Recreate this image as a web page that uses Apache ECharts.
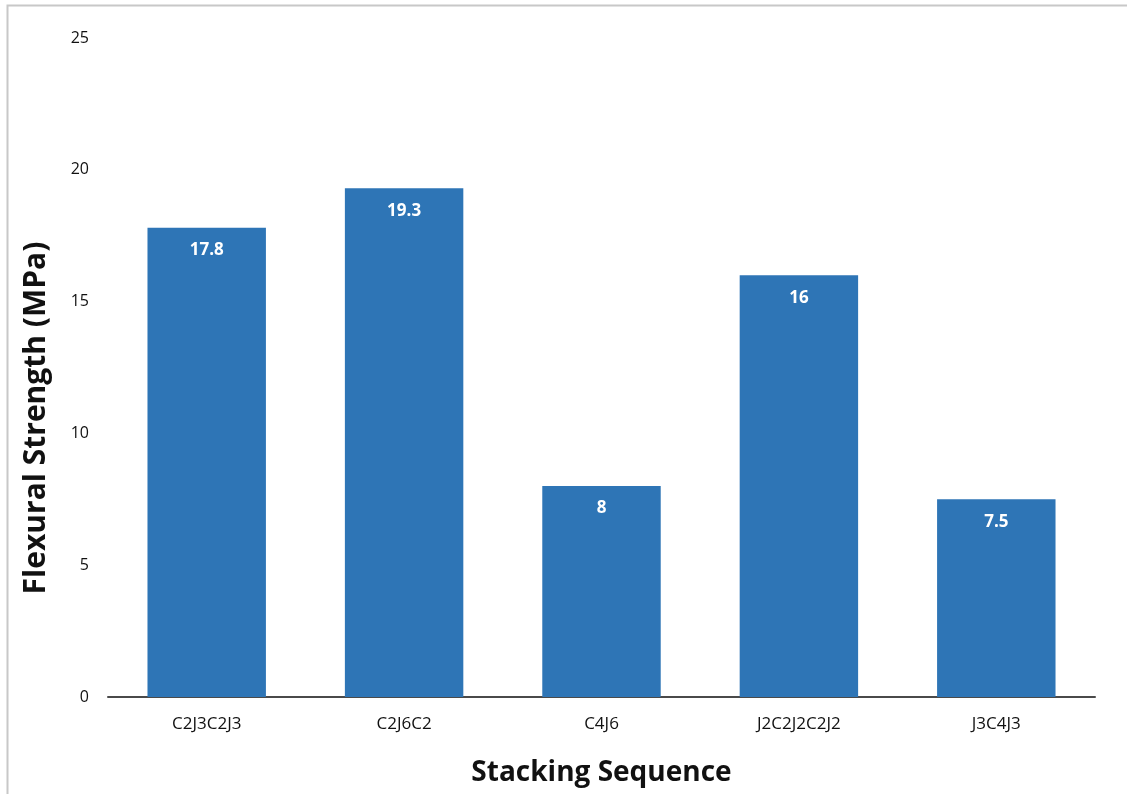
<!DOCTYPE html>
<html><head><meta charset="utf-8">
<script src="https://cdn.jsdelivr.net/npm/echarts@6/dist/echarts.min.js"></script>
<style>html,body{margin:0;padding:0;background:#fff}#c{width:1127px;height:794px}</style>
</head><body><div id="c"></div>
<script>
const categories = ['C2J3C2J3', 'C2J6C2', 'C4J6', 'J2C2J2C2J2', 'J3C4J3'];
const strength = [17.8, 19.3, 8, 16, 7.5];
const yTicks = [0, 5, 10, 15, 20, 25];
const yTitle = 'Flexural Strength (MPa)';

const chart = echarts.init(document.getElementById('c'));
const font = '"Open Sans", "Noto Sans", sans-serif';
chart.setOption({
  animation: false,
  backgroundColor: '#fff',
  graphic: [{
    type: 'rect', shape: { x: 7.5, y: 5.5, width: 1130, height: 800 },
    style: { fill: 'none', stroke: '#c8c8c8', lineWidth: 2 }, silent: true
  }, {
    type: 'text', x: 36, y: 418, rotation: Math.PI / 2,
    style: { text: yTitle, fontFamily: font, fontSize: 30, fontWeight: 'bold',
      fill: '#111', align: 'center', verticalAlign: 'middle' }
  }],
  grid: { left: 108, right: 32, top: 38, bottom: 97, containLabel: false },
  xAxis: {
    type: 'category', data: categories,
    axisLine: { show: true, lineStyle: { color: '#4a4a4a', width: 2 } },
    axisTick: { show: false },
    axisLabel: { color: '#111', fontFamily: font, fontSize: 17, margin: 19 },
    name: 'Stacking Sequence', nameLocation: 'middle', nameGap: 62,
    nameTextStyle: { fontFamily: font, fontSize: 28, fontWeight: 'bold', color: '#111' }
  },
  yAxis: {
    type: 'value', min: 0, max: 25, interval: 5,
    axisLine: { show: false }, axisTick: { show: false }, splitLine: { show: false },
    axisLabel: { color: '#111', fontFamily: font, fontSize: 16, margin: 19,
      formatter: v => yTicks.includes(v) ? String(v) : '' }
  },
  series: [{
    type: 'bar', data: strength, barWidth: '60%',
    itemStyle: { color: '#2E75B6' },
    label: { show: true, position: 'insideTop', distance: 14, color: '#fff',
      fontFamily: font, fontSize: 17, fontWeight: 'bold' }
  }]
});
</script></body></html>
